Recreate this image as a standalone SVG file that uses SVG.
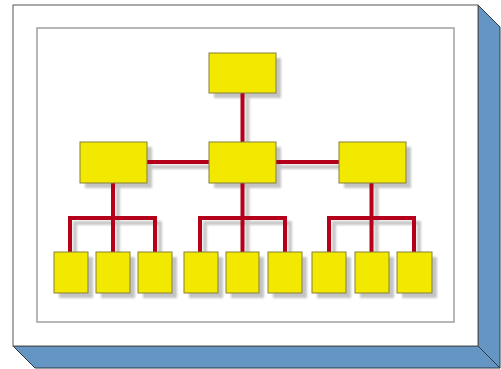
<svg xmlns="http://www.w3.org/2000/svg" width="501" height="369" viewBox="0 0 501 369">
<defs>
<filter id="sh" x="-20%" y="-20%" width="150%" height="150%">
<feGaussianBlur stdDeviation="1"/>
</filter>
<style>
.box{fill:#f2e800;stroke:#85803a;stroke-width:1}
.boxsh{fill:#c4c4c4}
.ln{fill:none;stroke:#b5001b;stroke-width:4;stroke-linejoin:miter}
.lnsh{fill:none;stroke:#c8c8c8;stroke-width:4}
</style>
</defs>
<rect width="501" height="369" fill="#ffffff"/>
<polygon points="478,5 500,27 500,368 35,368 13,346 478,346" fill="#6595c2" stroke="#2c3a48" stroke-width="1"/>
<line x1="478" y1="346" x2="500" y2="368" stroke="#2c3a48" stroke-width="1"/>
<rect x="13" y="5" width="465" height="341" fill="#ffffff" stroke="#555555" stroke-width="1"/>
<rect x="37" y="28" width="417" height="294" fill="#ffffff" stroke="#a0a0a0" stroke-width="1.5"/>
<g id="shadows" filter="url(#sh)" transform="translate(5,5)">
<path class="lnsh" d="M242.5,93 V142 M147,162 H338 M242.5,183 V252 M113,183 V252 M371.5,183 V252 M70,252 V218 H155 V252 M200,252 V218 H285 V252 M329,252 V218 H414 V252"/>
<rect class="boxsh" x="209" y="53" width="67" height="40"/>
<rect class="boxsh" x="80" y="142" width="67" height="41"/>
<rect class="boxsh" x="209" y="142" width="67" height="41"/>
<rect class="boxsh" x="339" y="142" width="67" height="41"/>
<rect class="boxsh" x="54" y="252" width="34" height="41"/>
<rect class="boxsh" x="96" y="252" width="34" height="41"/>
<rect class="boxsh" x="138" y="252" width="34" height="41"/>
<rect class="boxsh" x="184" y="252" width="34" height="41"/>
<rect class="boxsh" x="226" y="252" width="33" height="41"/>
<rect class="boxsh" x="268" y="252" width="34" height="41"/>
<rect class="boxsh" x="312" y="252" width="34" height="41"/>
<rect class="boxsh" x="355" y="252" width="34" height="41"/>
<rect class="boxsh" x="397" y="252" width="35" height="41"/>
</g>
<g id="connectors">
<path class="ln" d="M242.5,93 V142"/>
<path class="ln" d="M147,162 H209 M276,162 H339"/>
<path class="ln" d="M113,183 V252 M70,252 V218 H155 V252"/>
<path class="ln" d="M242.5,183 V252 M200,252 V218 H285 V252"/>
<path class="ln" d="M371.5,183 V252 M329,252 V218 H414 V252"/>
</g>
<g id="n0"><rect class="box" x="209" y="53" width="67" height="40"/></g>
<g id="n1"><rect class="box" x="80" y="142" width="67" height="41"/></g>
<g id="n2"><rect class="box" x="209" y="142" width="67" height="41"/></g>
<g id="n3"><rect class="box" x="339" y="142" width="67" height="41"/></g>
<g id="n4"><rect class="box" x="54" y="252" width="34" height="41"/></g>
<g id="n5"><rect class="box" x="96" y="252" width="34" height="41"/></g>
<g id="n6"><rect class="box" x="138" y="252" width="34" height="41"/></g>
<g id="n7"><rect class="box" x="184" y="252" width="34" height="41"/></g>
<g id="n8"><rect class="box" x="226" y="252" width="33" height="41"/></g>
<g id="n9"><rect class="box" x="268" y="252" width="34" height="41"/></g>
<g id="n10"><rect class="box" x="312" y="252" width="34" height="41"/></g>
<g id="n11"><rect class="box" x="355" y="252" width="34" height="41"/></g>
<g id="n12"><rect class="box" x="397" y="252" width="35" height="41"/></g>
</svg>
